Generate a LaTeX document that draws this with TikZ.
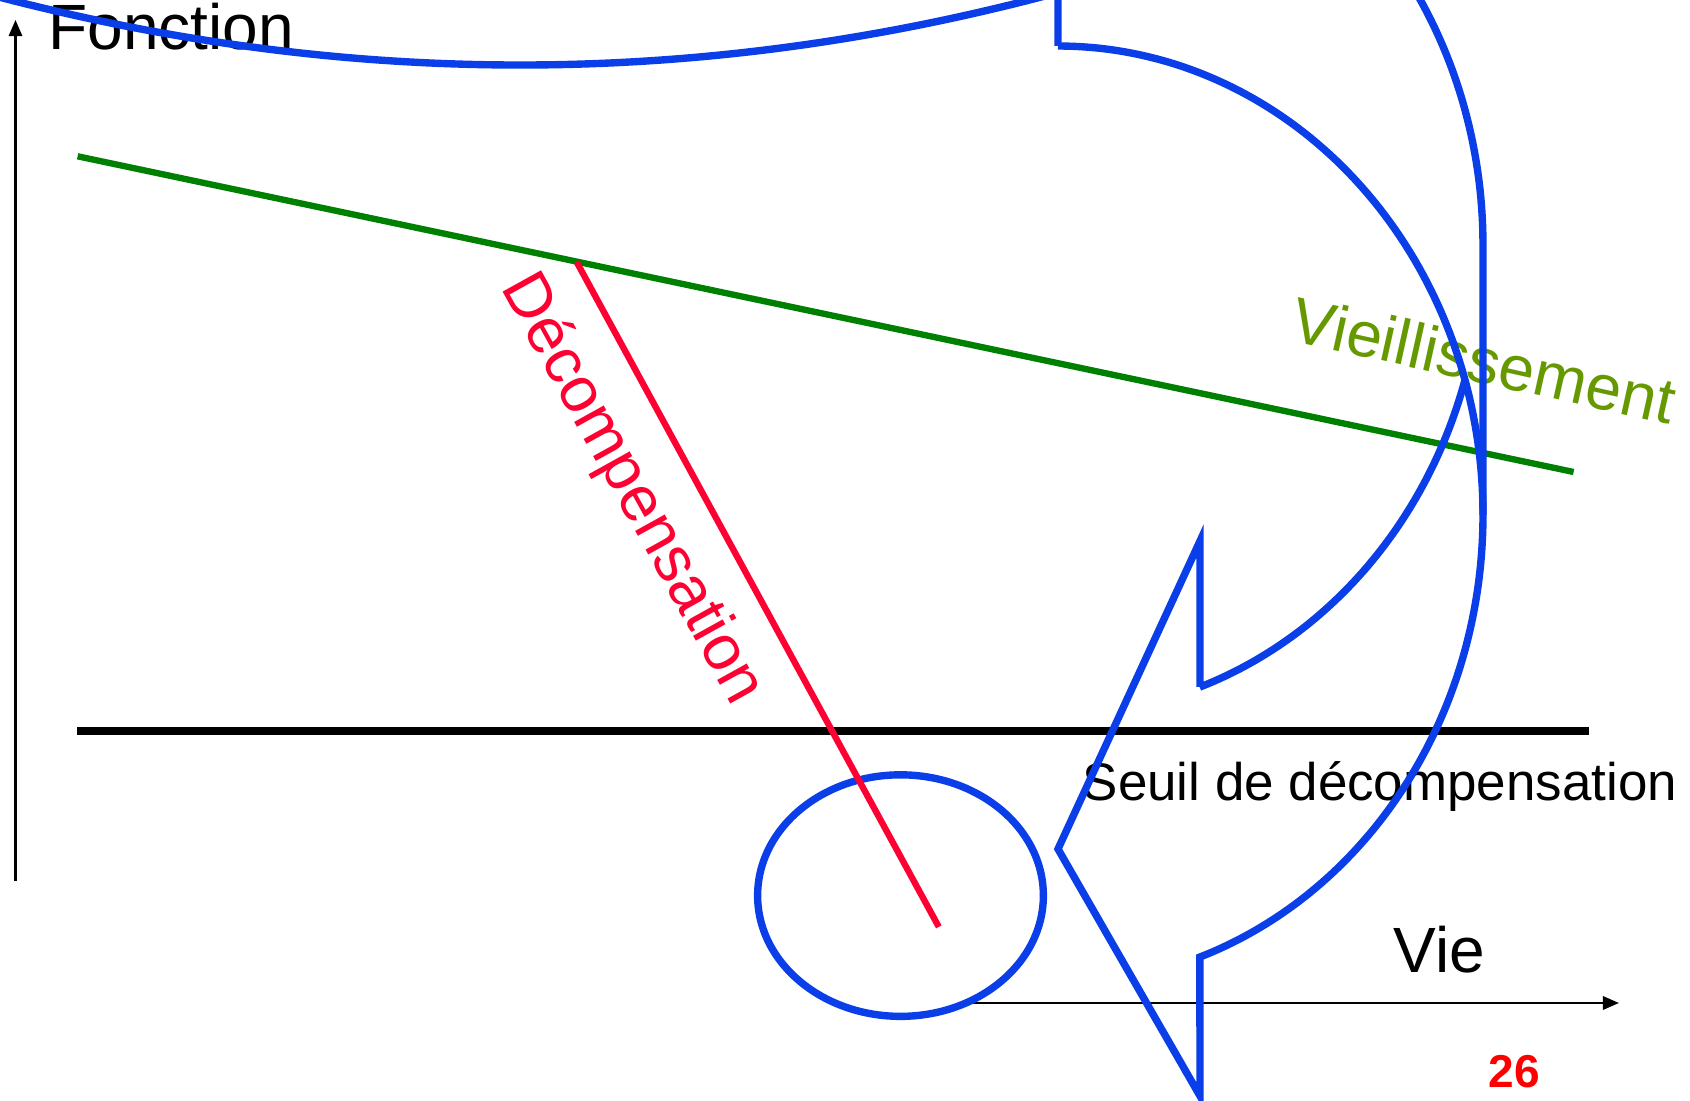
\documentclass[tikz,border=0pt]{standalone}
\usepackage{fontspec}
\setmainfont{Liberation Sans}
\usetikzlibrary{arrows.meta,shapes.geometric}
\definecolor{pblue}{RGB}{10,62,232}
\definecolor{pgreen}{RGB}{0,128,0}
\definecolor{pred}{RGB}{255,0,51}
\definecolor{polive}{RGB}{102,153,0}
\definecolor{pnum}{RGB}{255,0,0}
\begin{document}
\begin{tikzpicture}[x=0.01cm,y=-0.01cm,
  axisline/.style={line width=0.7pt,-{Triangle[length=4.6pt,width=3.8pt]}},
  txt/.style={inner sep=0pt,anchor=base west,font=\fontsize{18.2}{21}\selectfont},
  smalltxt/.style={inner sep=0pt,anchor=base west,font=\fontsize{15.05}{18}\selectfont},
  numtxt/.style={inner sep=0pt,anchor=base west,font=\bfseries\fontsize{13.1}{15}\selectfont},
  bluestroke/.style={draw=pblue,line width=2.1pt,line join=miter},
  agingline/.style={draw=pgreen,line width=1.8pt},
  decompline/.style={draw=pred,line width=1.8pt},
  seuilline/.style={draw=black,line width=2.2pt}]
\useasboundingbox (0,0) rectangle (1690,1101);
\clip (0,0) rectangle (1690,1101);
% coordinates
\coordinate (vbot) at (15.5,881);
\coordinate (vtop) at (15.5,20);
\coordinate (hstart) at (900,1003);
\coordinate (htip) at (1619,1003);
\coordinate (g1) at (77.6,156.3);
\coordinate (g2) at (1573.6,472);
\coordinate (s1) at (77,731);
\coordinate (s2) at (1589,731);
\coordinate (r1) at (576.6,261.9);
\coordinate (r2) at (938.8,926.9);
% axes
\draw[axisline] (vbot) -- (vtop);
\draw[axisline] (hstart) -- (htip);
% lines
\draw[agingline] (g1) -- (g2);
\draw[seuilline] (s1) -- (s2);
% ellipse
\node[bluestroke,fill=white,ellipse,inner sep=0pt,minimum width=2.856cm,minimum height=2.414cm] (loop) at (900.5,895.6) {};
\draw[decompline] (r1) -- (r2);
% texts
\node[txt] (fonction) at (48,50) {Fonction};
\node[smalltxt] (seuil) at (1082,801) {Seuil de décompensation};
\node[txt] (vie) at (1393,973) {Vie};
\node[numtxt,text=pnum] (num) at (1488,1088) {26};
\node[txt,text=polive,rotate=-12.5] (vieil) at (1288,340) {Vieillissement};
\node[txt,text=pred,rotate=-61] (decomp) at (500,287) {Décompensation};
% top curve
\coordinate (c0) at (-96,-30);
\coordinate (c3) at (1136,-30);
\draw[bluestroke] (c0) .. controls (314.7,96.7) and (725.3,96.7) .. (c3);
% big curved arrow
\coordinate (btop) at (1058,46);
\coordinate (atop) at (1058,-224);
\coordinate (aright) at (1483,245);
\coordinate (bright) at (1483,515);
\coordinate (wingtop) at (1200,541);
\coordinate (tip) at (1058,849);
\coordinate (wingbot) at (1200,1096);
\coordinate (outerend) at (1200,957);
\coordinate (innerend) at (1200,687);
\draw[bluestroke] (btop) -- (atop)
  -- plot[domain=-90:0,samples=80] ({1058+425*cos(\x)},{245+469*sin(\x)})
  -- (bright)
  -- plot[domain=0:70.5,samples=80] ({1058+425*cos(\x)},{515+469*sin(\x)})
  -- (wingbot) -- (tip) -- (wingtop) -- (innerend)
  -- plot[domain=70.5:16.7,samples=60] ({1058+425*cos(\x)},{245+469*sin(\x)});
\draw[bluestroke] plot[domain=-90:0,samples=80] ({1058+425*cos(\x)},{515+469*sin(\x)});
\end{tikzpicture}
\end{document}
